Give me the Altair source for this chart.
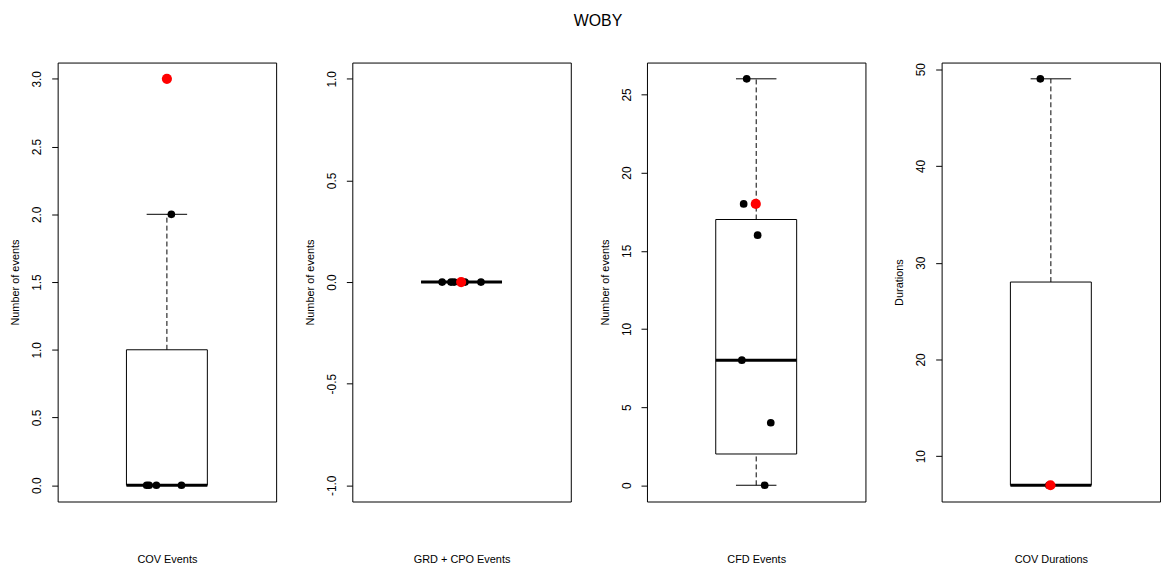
import altair as alt
import pandas as pd

# ---- data ----
panel_names = ["COV Events", "GRD + CPO Events", "CFD Events", "COV Durations"]
y_titles = ["Number of events", "Number of events", "Number of events", "Durations"]

whisk_lo = [0, 0, 0, 7]
q1 = [0, 0, 2, 7]
median = [0, 0, 8, 7]
q3 = [1, 0, 17, 28]
whisk_hi = [2, 0, 26, 49]

# jittered black points (x in box-plot coordinates, box centre = 1)
black_x = [
    [0.900, 0.912, 0.948, 1.072, 1.022],
    [0.904, 0.948, 0.963, 1.017, 1.096],
    [0.953, 0.938, 1.007, 0.929, 1.072, 1.042],
    [0.948, 0.990],
]
black_y = [
    [0, 0, 0, 0, 2],
    [0, 0, 0, 0, 0],
    [26, 18, 16, 8, 4, 0],
    [49, 7],
]
red_x = [1.0, 0.998, 0.998, 0.998]
red_y = [3, 0, 18, 7]

y_domains = [[-0.12, 3.12], [-1.08, 1.08], [-1.04, 27.04], [5.32, 50.68]]
y_ticks = [
    [0, 0.5, 1.0, 1.5, 2.0, 2.5, 3.0],
    [-1.0, -0.5, 0.0, 0.5, 1.0],
    [0, 5, 10, 15, 20, 25],
    [10, 20, 30, 40, 50],
]
y_formats = [".1f", ".1f", "d", "d"]

X_DOMAIN = [0.46, 1.54]
CENTER = 1.0
BOX_HALF = 0.2
CAP_HALF = 0.1

FONT = "Liberation Sans"
W, H = 220, 442


def panel(i):
    xs = alt.Scale(domain=X_DOMAIN, nice=False, zero=False)
    ys = alt.Scale(domain=y_domains[i], nice=False, zero=False)
    x_axis = alt.Axis(
        title=panel_names[i], labels=False, ticks=False, domain=False, grid=False,
        titleFont=FONT, titleFontSize=11, titleFontWeight="normal",
        titleColor="black", titlePadding=52)
    y_axis = alt.Axis(
        title=y_titles[i], values=y_ticks[i], format=y_formats[i],
        labelExpr="replace(datum.label, '\u2212', '-')",
        domain=False, grid=False, tickColor="black", tickSize=6, tickWidth=1,
        labelAngle=270, labelAlign="center", labelBaseline="bottom",
        labelFont=FONT, labelFontSize=12, labelColor="black", labelPadding=8,
        titleFont=FONT, titleFontSize=11, titleFontWeight="normal",
        titleColor="black", titlePadding=10)

    def X(f):
        return alt.X(f, scale=xs, axis=x_axis)

    def Y(f):
        return alt.Y(f, scale=ys, axis=y_axis)

    stats = pd.DataFrame({
        "c": [CENTER], "bl": [CENTER - BOX_HALF], "br": [CENTER + BOX_HALF],
        "cl": [CENTER - CAP_HALF], "cr": [CENTER + CAP_HALF],
        "lo": [whisk_lo[i]], "q1": [q1[i]], "med": [median[i]],
        "q3": [q3[i]], "hi": [whisk_hi[i]],
    })
    pts = pd.DataFrame({"x": black_x[i], "y": black_y[i]})
    red = pd.DataFrame({"x": [red_x[i]], "y": [red_y[i]]})

    base = alt.Chart(stats)

    box = base.mark_rect(fill="white", stroke="black", strokeWidth=1).encode(
        x=X("bl:Q"), x2="br:Q", y=Y("q1:Q"), y2="q3:Q")
    whisk_up = base.mark_rule(color="black", strokeWidth=1, strokeDash=[5, 3]).encode(
        x=X("c:Q"), y=Y("q3:Q"), y2="hi:Q")
    whisk_dn = base.mark_rule(color="black", strokeWidth=1, strokeDash=[5, 3]).encode(
        x=X("c:Q"), y=Y("lo:Q"), y2="q1:Q")
    cap_hi = base.mark_rule(color="black", strokeWidth=1).encode(
        x=X("cl:Q"), x2="cr:Q", y=Y("hi:Q"))
    cap_lo = base.mark_rule(color="black", strokeWidth=1).encode(
        x=X("cl:Q"), x2="cr:Q", y=Y("lo:Q"))
    med = base.mark_rule(color="black", strokeWidth=3).encode(
        x=X("bl:Q"), x2="br:Q", y=Y("med:Q"))
    dots = alt.Chart(pts).mark_circle(color="black", opacity=1, size=60).encode(
        x=X("x:Q"), y=Y("y:Q"))
    reddot = alt.Chart(red).mark_circle(color="#ff0000", opacity=1, size=105).encode(
        x=X("x:Q"), y=Y("y:Q"))

    return alt.layer(box, whisk_up, whisk_dn, cap_hi, cap_lo, med, dots, reddot).properties(
        width=W, height=H)


chart = alt.hconcat(*[panel(i) for i in range(4)], spacing=76.7, bounds="flush").properties(
    title=alt.Title("WOBY", font=FONT, fontSize=16, fontWeight="normal", color="black",
                    anchor="middle", offset=33, dx=13),
    padding={"left": 1, "top": 3, "right": 0, "bottom": 0},
    background="white",
).configure_view(stroke="black", strokeWidth=1)

chart.save("out.html", embed_options={"renderer": "svg", "actions": False})
